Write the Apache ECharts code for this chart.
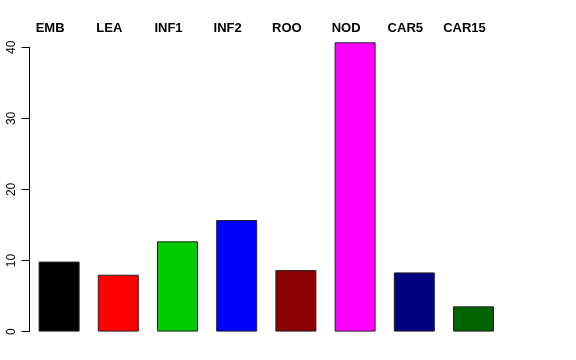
<!DOCTYPE html>
<html>
<head>
<meta charset="utf-8">
<script src="https://cdn.jsdelivr.net/npm/echarts@6/dist/echarts.min.js"></script>
<style>html,body{margin:0;padding:0;background:#fff}#c{width:576px;height:360px}</style>
</head>
<body>
<div id="c"></div>
<script>
const categories = ['EMB', 'LEA', 'INF1', 'INF2', 'ROO', 'NOD', 'CAR5', 'CAR15'];
const values = [9.85, 8.0, 12.7, 15.7, 8.65, 40.7, 8.33, 3.55];
const barColors = ['#000000', '#FF0000', '#00CD00', '#0000FF', '#8B0000', '#FF00FF', '#000080', '#006400'];
const yTicks = [0, 10, 20, 30, 40];

const chart = echarts.init(document.getElementById('c'), null, {renderer: 'canvas'});
chart.setOption({
  animation: false,
  backgroundColor: '#ffffff',
  grid: {left: 29.5, top: 47.3, width: 473.6, bottom: 28.4, containLabel: false},
  xAxis: {
    type: 'category',
    position: 'top',
    data: categories,
    axisLine: {show: false},
    axisTick: {show: false},
    axisLabel: {
      margin: 12,
      padding: [0, 18, 0, 0],
      fontFamily: 'Liberation Sans',
      fontWeight: 'bold',
      fontSize: 13,
      color: '#000'
    }
  },
  yAxis: {
    type: 'value',
    min: yTicks[0],
    max: yTicks[yTicks.length - 1],
    interval: 10,
    splitLine: {show: false},
    axisLine: {show: true, lineStyle: {color: '#000', width: 1}},
    axisTick: {show: true, length: 8, lineStyle: {color: '#000', width: 1}},
    axisLabel: {
      rotate: 90,
      margin: 12,
      fontFamily: 'Liberation Sans',
      fontSize: 12,
      color: '#000'
    }
  },
  series: [{
    type: 'bar',
    clip: false,
    barWidth: 41,
    data: values.map((v, i) => ({value: v, itemStyle: {color: barColors[i]}})),
    itemStyle: {borderColor: '#222', borderWidth: 1}
  }]
});
</script>
</body>
</html>
